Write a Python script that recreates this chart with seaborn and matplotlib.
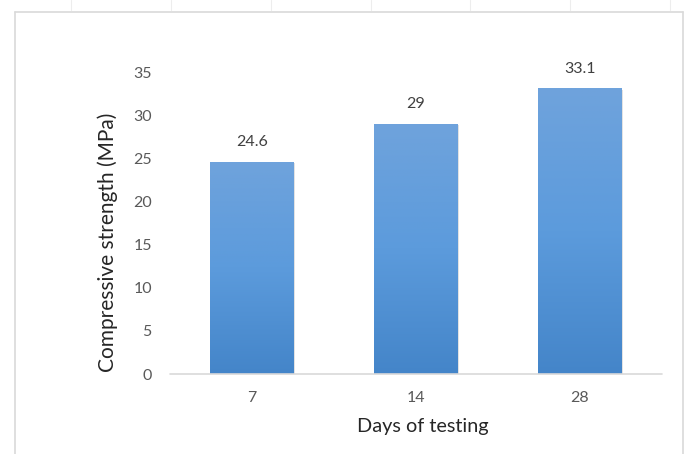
import numpy as np
import pandas as pd
import seaborn as sns
import matplotlib.pyplot as plt
import matplotlib.patheffects as pe
from matplotlib.lines import Line2D
from matplotlib.colors import LinearSegmentedColormap

# data
days = ['7', '14', '28']
strength = [24.6, 29, 33.1]

df = pd.DataFrame({'Days': days, 'Strength': strength})

sns.set_style('white')
plt.rcParams['font.family'] = ['Lato', 'DejaVu Sans']

fig = plt.figure(figsize=(6.85, 4.54), dpi=100)
ax = fig.add_axes([0.248, 0.1762, 0.7184, 0.6652])

sns.barplot(data=df, x='Days', y='Strength', order=days, color='#4f8fd3',
            width=0.506, ax=ax, zorder=3)

# excel style vertical gradient fill on each bar
cmap = LinearSegmentedColormap.from_list('xl', ['#4485c9', '#5c9bdc', '#6fa3dc'])
grad = np.linspace(0, 1, 256).reshape(-1, 1)
for bar in ax.patches:
    x0, y0 = bar.get_x(), bar.get_y()
    w, h = bar.get_width(), bar.get_height()
    bar.set_path_effects([pe.withSimplePatchShadow(offset=(1.2, -1.2),
                                                   shadow_rgbFace='#9a9a9a', alpha=0.35)])
    im = ax.imshow(grad, cmap=cmap, aspect='auto', origin='lower',
                   extent=[x0, x0 + w, y0, y0 + h], zorder=4)
    im.set_clip_path(bar)

ax.set_xlim(-0.5, len(days) - 0.5)
ax.set_ylim(0, 35)
ax.set_yticks(range(0, 36, 5))
sns.despine(ax=ax, left=True, bottom=True, top=True, right=True)
ax.axhline(0, color='#d9d9d9', lw=1.2, zorder=5, clip_on=False)

ax.tick_params(axis='both', length=0, labelsize=11.5, colors='#595959')
ax.tick_params(axis='y', pad=13)
ax.tick_params(axis='x', pad=12)
ax.set_xlabel('Days of testing', fontsize=14.3, color='#262626')
ax.set_ylabel('Compressive strength (MPa)', fontsize=15, color='#262626')
# labels sit a little off-centre in the original
ax.xaxis.set_label_coords(0.514, -0.145)
ax.yaxis.set_label_coords(-0.105, 0.437)

ax.bar_label(ax.containers[0], labels=[f'{v:g}' for v in strength],
             padding=9, fontsize=11.5, color='#404040')

# chart frame (bottom is cut off in the original)
c = '#d9d9d9'
fl, fr, ft = 15 / 685, 683 / 685, 1 - 12 / 454
fig.add_artist(Line2D([fl, fr], [ft, ft], color=c, lw=1.2))
fig.add_artist(Line2D([fl, fl], [0, ft], color=c, lw=1.2))
fig.add_artist(Line2D([fr, fr], [0, ft], color=c, lw=1.2))
# faint ruler marks above the frame
for px in [71, 171, 271, 371, 470, 570, 670]:
    fig.add_artist(Line2D([px / 685, px / 685], [1 - 10 / 454, 1], color='#ededed', lw=0.8))

fig.savefig('out.png', dpi=100)
